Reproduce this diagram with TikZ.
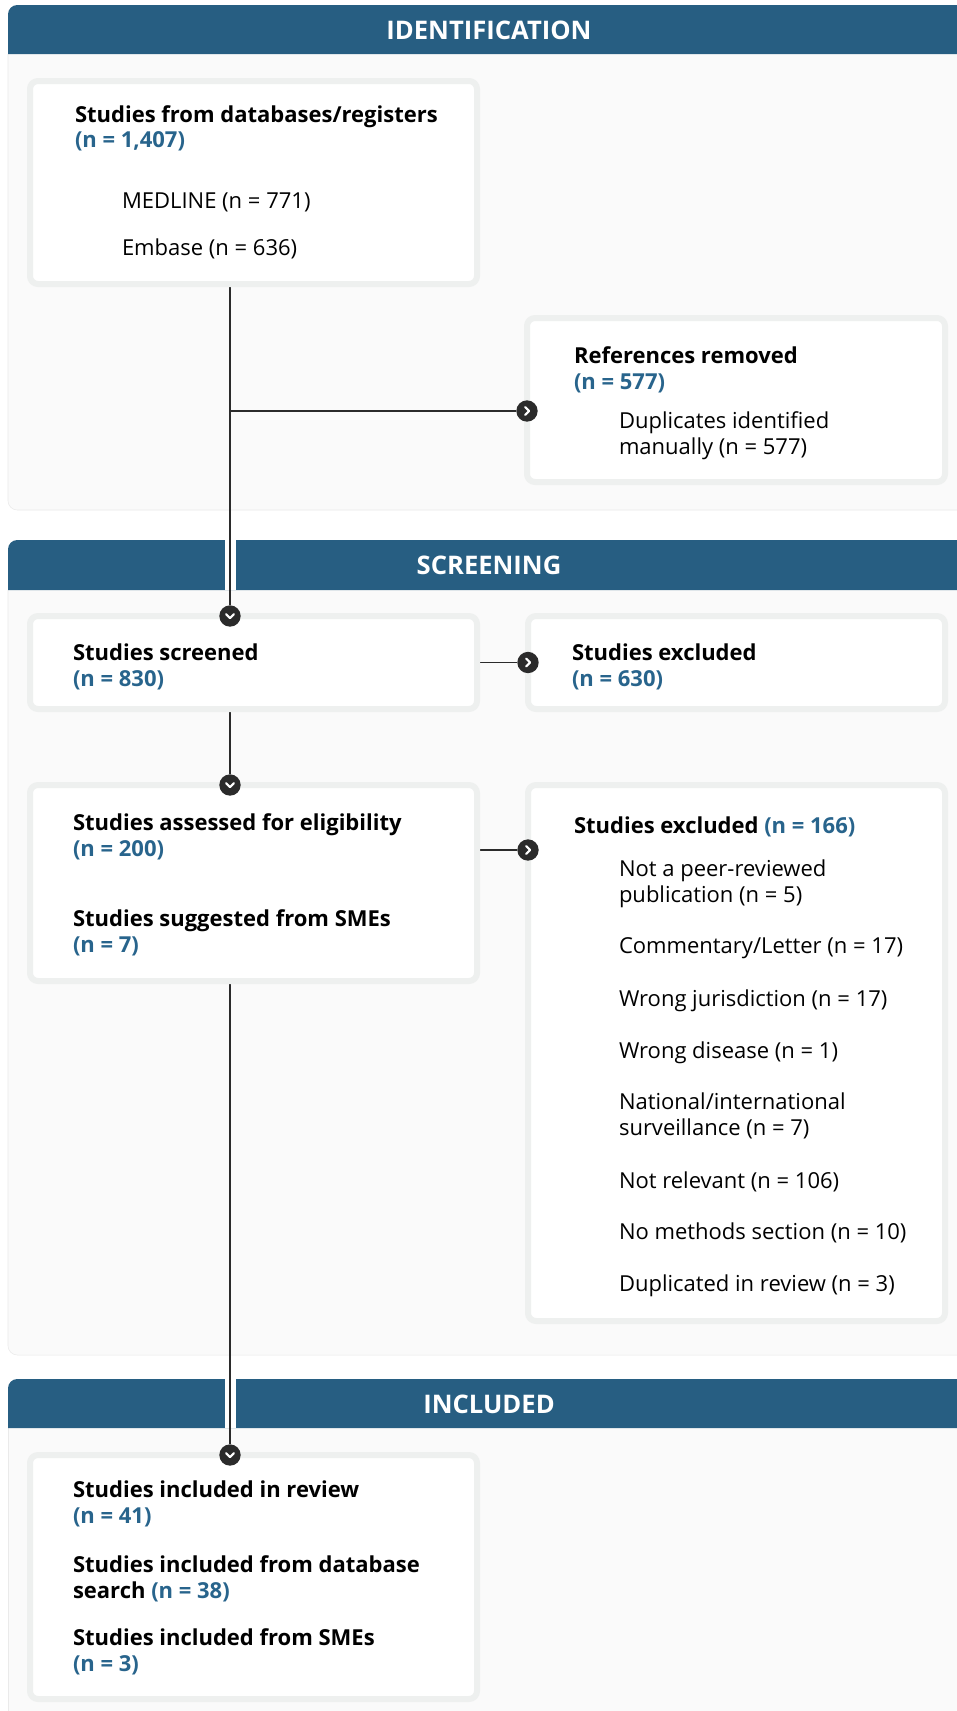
\documentclass[tikz,border=0pt]{standalone}
\usepackage{fontspec}
\setmainfont{Open Sans}
\usetikzlibrary{fit,backgrounds}
\definecolor{hdrblue}{RGB}{39,94,130}
\definecolor{numblue}{RGB}{40,100,140}
\definecolor{framegrey}{RGB}{238,240,239}
\definecolor{panelgrey}{RGB}{250,250,250}
\definecolor{panelline}{RGB}{234,234,234}
\definecolor{darkdot}{RGB}{43,43,43}
\newcommand{\nn}[1]{\textcolor{numblue}{#1}}

\begin{document}
\begin{tikzpicture}[x=0.75pt,y=-0.75pt,
  every node/.style={inner sep=0pt,outer sep=0pt},
  frame/.style={draw=framegrey,line width=4.5pt,fill=white,rounded corners=6pt,inner sep=0pt},
  lbl/.style={anchor=base west,font=\fontsize{16.5}{19.5}\selectfont},
  hd/.style={anchor=base west,font=\fontsize{16.5}{19.5}\selectfont\bfseries},
  num/.style={hd,text=numblue},
  sec/.style={font=\fontsize{19.2}{22}\selectfont\bfseries,text=white},
  conn/.style={draw=darkdot,line width=1.4pt},
  dot/.style={circle,fill=darkdot,minimum size=16pt,inner sep=0pt},
  dotdown/.style={dot,path picture={\draw[white,line width=1.5pt,line cap=round,line join=round]
      ([shift={(-3pt,1.4pt)}]path picture bounding box.center) --
      ([shift={(0pt,-1.6pt)}]path picture bounding box.center) --
      ([shift={(3pt,1.4pt)}]path picture bounding box.center);}},
  dotright/.style={dot,path picture={\draw[white,line width=1.5pt,line cap=round,line join=round]
      ([shift={(-1.4pt,3pt)}]path picture bounding box.center) --
      ([shift={(1.6pt,0pt)}]path picture bounding box.center) --
      ([shift={(-1.4pt,-3pt)}]path picture bounding box.center);}}]
  \useasboundingbox (0,0) rectangle (957,1711);

  \node[frame,fit={(30,81) (477,284)}] (srcbox) {};
  \node[frame,fit={(527,318) (945,482)}] (rembox) {};
  \node[frame,fit={(30,616) (477,709)}] (scrbox) {};
  \node[frame,fit={(528,616) (945,709)}] (excbox) {};
  \node[frame,fit={(30,785) (477,981)}] (eligbox) {};
  \node[frame,fit={(528,785) (945,1321)}] (elexbox) {};
  \node[frame,fit={(30,1455) (477,1699)}] (incbox) {};

  \node[dotdown] (scrin) at (230,616) {};
  \node[dotright] (remin) at (rembox.west |- 0,411) {};
  \node[dotright] (excin) at (excbox.west) {};
  \node[dotdown] (eligin) at (230,785) {};
  \node[dotright] (elexin) at (elexbox.west |- 0,850) {};
  \node[dotdown] (incin) at (230,1455) {};

  \node[hd] (srchd) at (75,122) {Studies from databases/registers};
  \node[num] (srcn) at (75,147) {(n = 1,407)};
  \node[lbl] (srcmed) at (122,208) {MEDLINE (n = 771)};
  \node[lbl] (srcemb) at (122,255) {Embase (n = 636)};

  \node[hd] (remhd) at (574,363) {References removed};
  \node[num] (remn) at (574,389) {(n = 577)};
  \node[lbl] (remdup) at (619,428) {Duplicates identified};
  \node[lbl] (remman) at (619,454) {manually (n = 577)};

  \node[hd] (scrhd) at (73,660) {Studies screened};
  \node[num] (scrn) at (73,686) {(n = 830)};
  \node[hd] (exchd) at (572,660) {Studies excluded};
  \node[num] (excn) at (572,686) {(n = 630)};

  \node[hd] (elighd) at (73,830) {Studies assessed for eligibility};
  \node[num] (elign) at (73,856) {(n = 200)};
  \node[hd] (smehd) at (73,926) {Studies suggested from SMEs};
  \node[num] (smen) at (73,952) {(n = 7)};

  \node[hd] (elexhd) at (574,833) {Studies excluded \nn{(n = 166)}};
  \node[lbl] (peer) at (619,876) {Not a peer-reviewed};
  \node[lbl] (peerb) at (619,902) {publication (n = 5)};
  \node[lbl] (comm) at (619,953) {Commentary/Letter (n = 17)};
  \node[lbl] (juris) at (619,1006) {Wrong jurisdiction (n = 17)};
  \node[lbl] (dis) at (619,1058) {Wrong disease (n = 1)};
  \node[lbl] (natl) at (619,1109) {National/international};
  \node[lbl] (natlb) at (619,1135) {surveillance (n = 7)};
  \node[lbl] (notrel) at (619,1188) {Not relevant (n = 106)};
  \node[lbl] (nometh) at (619,1239) {No methods section (n = 10)};
  \node[lbl] (dupl) at (619,1291) {Duplicated in review (n = 3)};

  \node[hd] (inchd) at (73,1497) {Studies included in review};
  \node[num] (incn) at (73,1523) {(n = 41)};
  \node[hd] (incdb) at (73,1572) {Studies included from database};
  \node[hd] (incdbb) at (73,1598) {search \nn{(n = 38)}};
  \node[hd] (incsme) at (73,1645) {Studies included from SMEs};
  \node[num] (incsmen) at (73,1671) {(n = 3)};

  \begin{scope}[on background layer]
    \fill[white] (0,0) rectangle (957,1711);
    \filldraw[fill=panelgrey,draw=panelline] (8,54) [rounded corners=7pt] -- (8,510) -- (980,510) [sharp corners] -- (980,54);
    \filldraw[fill=panelgrey,draw=panelline] (8,590) [rounded corners=7pt] -- (8,1355) -- (980,1355) [sharp corners] -- (980,590);
    \filldraw[fill=panelgrey,draw=panelline] (8,1428) -- (8,1720) -- (980,1720) -- (980,1428);
    \fill[hdrblue] (8,54) [rounded corners=7pt] -- (8,5) -- (980,5) [sharp corners] -- (980,54) -- cycle;
    \fill[hdrblue] (8,590) [rounded corners=7pt] -- (8,540) -- (980,540) [sharp corners] -- (980,590) -- cycle;
    \fill[hdrblue] (8,1428) [rounded corners=7pt] -- (8,1379) -- (980,1379) [sharp corners] -- (980,1428) -- cycle;
    \fill[white] (225,540) rectangle (236,590);
    \fill[white] (225,1379) rectangle (236,1428);
    \node[sec] (identhd) at (489,30) {IDENTIFICATION};
    \node[sec] (screenhd) at (489,565) {SCREENING};
    \node[sec] (inclhd) at (489,1404) {INCLUDED};

    \draw[conn] (srcbox.south -| scrin) -- (scrin);
    \draw[conn] (scrin |- remin) -- (remin);
    \draw[conn] (scrbox.east) -- (excin);
    \draw[conn] (scrbox.south -| eligin) -- (eligin);
    \draw[conn] (eligbox.east |- elexin) -- (elexin);
    \draw[conn] (eligbox.south -| incin) -- (incin);
  \end{scope}
\end{tikzpicture}
\end{document}
